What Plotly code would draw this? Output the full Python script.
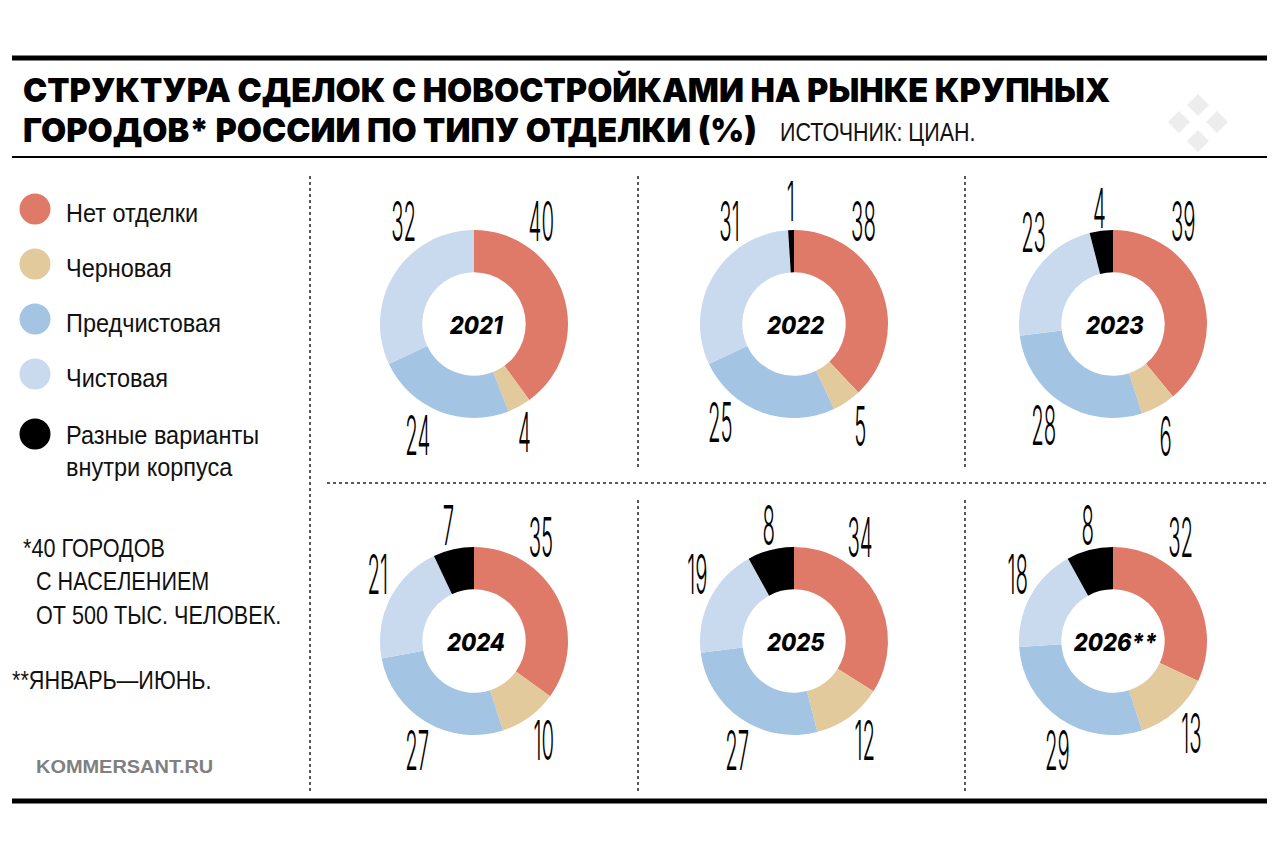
import json
import plotly.graph_objects as go

# структура сделок, % - порядок по часовой стрелке от верха
years = ["2021", "2022", "2023", "2024", "2025", "2026**"]
categories = ["Нет отделки", "Черновая", "Предчистовая", "Чистовая", "Разные варианты<br>внутри корпуса"]
no_finish = [40, 38, 39, 35, 34, 32]
rough = [4, 5, 6, 10, 12, 13]
pre_finish = [24, 25, 28, 27, 27, 29]
finish = [32, 31, 23, 21, 19, 18]
mixed = [0, 1, 4, 7, 8, 8]
colors = ["#E07A68", "#E2CA9C", "#A3C4E2", "#C9D9EE", "#000000"]

title_lines = ["СТРУКТУРА СДЕЛОК С НОВОСТРОЙКАМИ НА РЫНКЕ КРУПНЫХ", "ГОРОДОВ* РОССИИ ПО ТИПУ ОТДЕЛКИ (%)"]
source = "ИСТОЧНИК: ЦИАН."
notes = ["*40 ГОРОДОВ", "С НАСЕЛЕНИЕМ", "ОТ 500 ТЫС. ЧЕЛОВЕК.", "**ЯНВАРЬ—ИЮНЬ."]
site = "KOMMERSANT.RU"

W, H = 1280, 861
SANS = "Liberation Sans, sans-serif"
HEAVY = "Inter, sans-serif"

# раскладка в пикселях страницы
centers = [(474, 324), (794, 324), (1113, 324), (474, 641), (794, 641), (1113, 641)]
radius = 94
# центры подписей, в том же порядке что и сегменты
label_pos = [
    [(541, 221), (524, 432), (418, 435), (403, 221), None],
    [(863, 221), (860, 426), (720, 422), (729, 221), (791, 201)],
    [(1183, 221), (1165, 436), (1043, 425), (1033, 232), (1099, 208)],
    [(541, 537), (544, 740), (417, 750), (377, 574), (448, 525)],
    [(860, 537), (864, 740), (737, 750), (697, 574), (769, 525)],
    [(1180, 537), (1191, 733), (1057, 750), (1017, 574), (1088, 525)],
]
legend_x = 35
legend_y = [209, 264, 319, 374, 434]
legend_text_y = [213, 268, 323, 378, 451]

fig = go.Figure()

# кружки легенды рисуем на скрытой оси в пикселях
fig.add_trace(go.Scatter(x=[legend_x] * 5, y=legend_y, mode="markers", hoverinfo="skip", showlegend=False,
                         marker=dict(size=31, color=colors, line=dict(width=0))))

annotations = []
squeeze = {}


def add_text(x, y, text, size, family=SANS, color="#111111", anchor="left", weight=None, style=None, scale=None):
    if scale is not None:
        squeeze[len(annotations)] = [scale, 0 if anchor == "left" else 0.5]
    annotations.append(dict(x=x, y=y, xref="x", yref="y", text=text, showarrow=False, xanchor=anchor, yanchor="middle",
                            align="left", font=dict(family=family, size=size, color=color, weight=weight, style=style)))


for i, year in enumerate(years):
    values = [no_finish[i], rough[i], pre_finish[i], finish[i], mixed[i]]
    cx, cy = centers[i]
    fig.add_trace(go.Pie(values=values, labels=categories, sort=False, direction="clockwise", rotation=0,
                         hole=0.55, textinfo="none", hoverinfo="label+value", showlegend=False,
                         marker=dict(colors=colors, line=dict(width=0)),
                         domain=dict(x=[(cx - radius) / W, (cx + radius) / W],
                                     y=[1 - (cy + radius) / H, 1 - (cy - radius) / H])))
    for value, pos in zip(values, label_pos[i]):
        if pos is not None:
            add_text(pos[0], pos[1], str(value), 55, family=HEAVY, color="#000000", anchor="center", weight=300, scale=0.37)
    add_text(cx + 2, cy + 1, year, 25, family=HEAVY, color="#000000", anchor="center",
             weight=800, style="italic", scale=0.88)

add_text(21, 90, title_lines[0], 33, family=HEAVY, color="#000000", weight=900, scale=0.985)
add_text(21, 130, title_lines[1], 33, family=HEAVY, color="#000000", weight=900, scale=0.985)
add_text(778, 132, source, 25, scale=0.86)

for name, y in zip(categories, legend_text_y):
    add_text(64, y, name, 25, scale=0.94)

add_text(21, 548, notes[0], 25, scale=0.865)
add_text(34, 581, notes[1], 25, scale=0.865)
add_text(34, 615, notes[2], 25, scale=0.865)
add_text(10, 680, notes[3], 25, scale=0.865)
add_text(34, 766, site, 19, color="#808080", weight="bold", scale=1.05)

rules = [(12, 58, 1267, 58, 5), (12, 157, 1267, 157, 2), (12, 801, 1267, 801, 5)]
dotted = [(310, 176, 310, 792), (638, 176, 638, 468), (965, 176, 965, 468),
          (638, 500, 638, 792), (965, 500, 965, 792), (327, 483, 1267, 483)]
shapes = []
# бледный значок поверх картинки, справа от заголовка
for mx, my in [(1198, 105), (1179, 122), (1217, 122), (1198, 141)]:
    shapes.append(dict(type="path", xref="x", yref="y", line=dict(width=0), fillcolor="#EDEDED",
                       path=f"M {mx} {my - 11} L {mx + 11} {my} L {mx} {my + 11} L {mx - 11} {my} Z"))
for x0, y0, x1, y1, w in rules:
    shapes.append(dict(type="line", xref="x", yref="y", x0=x0, y0=y0, x1=x1, y1=y1,
                       line=dict(color="#000000", width=w)))
for x0, y0, x1, y1 in dotted:
    shapes.append(dict(type="line", xref="x", yref="y", x0=x0, y0=y0, x1=x1, y1=y1,
                       line=dict(color="#222222", width=1.5, dash="3px,3px")))

fig.update_layout(width=W, height=H, margin=dict(l=0, r=0, t=0, b=0), paper_bgcolor="white", plot_bgcolor="white",
                  autosize=False, showlegend=False, annotations=annotations, shapes=shapes,
                  xaxis=dict(range=[0, W], visible=False, fixedrange=True),
                  yaxis=dict(range=[H, 0], visible=False, fixedrange=True))

# у plotly нет узкого начертания - поджимаем подписи по горизонтали
post = """
document.body.style.margin = '0';
var squeeze = %s;
Object.keys(squeeze).forEach(function (k) {
    var t = document.querySelector('.annotation[data-index="' + k + '"] text');
    if (!t) return;
    var b = t.getBBox(), c = b.x + b.width * squeeze[k][1];
    t.setAttribute('transform', 'translate(' + c + ',0) scale(' + squeeze[k][0] + ',1) translate(' + (-c) + ',0)');
});
""" % json.dumps(squeeze)

fig.write_html("out.html", post_script=post, config=dict(displayModeBar=False))
